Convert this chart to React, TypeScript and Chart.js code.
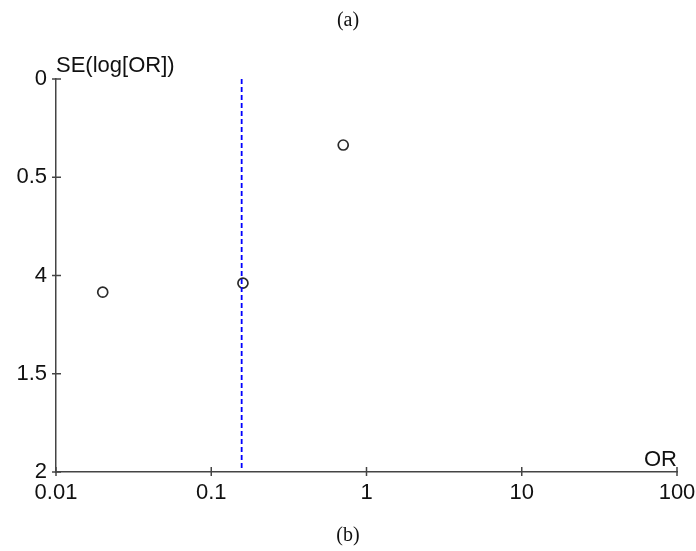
import React, { useEffect, useRef } from "react";
import { Chart, registerables } from "chart.js";

Chart.register(...registerables);

// ---- data ----
const studyOR: number[] = [0.02, 0.16, 0.708];
const studySE: number[] = [1.085, 1.039, 0.336];
const pooledOR = 0.157;
const pooledLineSE: number[] = [0, 1.98];

const xTickValues: number[] = [0.01, 0.1, 1, 10, 100];
const xTickLabels: string[] = ["0.01", "0.1", "1", "10", "100"];
const yTickValues: number[] = [0, 0.5, 1, 1.5, 2];
const yTickLabels: string[] = ["0", "0.5", "4", "1.5", "2"];

const topTitle = "(a)";
const bottomTitle = "(b)";
const yAxisTitle = "SE(log[OR])";
const xAxisTitle = "OR";

const SANS = '"Liberation Sans", Arial, sans-serif';
const SERIF = '"Liberation Serif", "Times New Roman", serif';
const AXIS_COLOR = "#444";
const TEXT_COLOR = "#111";

const crossTicksPlugin = {
  id: "crossTicks",
  afterDraw(chart: any) {
    const { ctx, chartArea, scales } = chart;
    ctx.save();
    ctx.strokeStyle = AXIS_COLOR;
    ctx.lineWidth = 1.5;
    scales.y.ticks.forEach((t: any) => {
      const py = scales.y.getPixelForValue(t.value);
      ctx.beginPath();
      ctx.moveTo(chartArea.left - 4, py);
      ctx.lineTo(chartArea.left + 5, py);
      ctx.stroke();
    });
    scales.x.ticks.forEach((t: any) => {
      const px = scales.x.getPixelForValue(t.value);
      ctx.beginPath();
      ctx.moveTo(px, chartArea.bottom - 5);
      ctx.lineTo(px, chartArea.bottom + 4);
      ctx.stroke();
    });
    ctx.fillStyle = TEXT_COLOR;
    ctx.font = `22px ${SANS}`;
    ctx.textBaseline = "alphabetic";
    ctx.textAlign = "left";
    ctx.fillText(yAxisTitle, chartArea.left, chartArea.top - 7);
    ctx.textAlign = "right";
    ctx.fillText(xAxisTitle, chartArea.right, chartArea.bottom - 6);
    ctx.restore();
  },
};

export default function App() {
  const canvasRef = useRef<HTMLCanvasElement | null>(null);

  useEffect(() => {
    if (!canvasRef.current) return;
    const chart = new Chart(canvasRef.current, {
      type: "scatter",
      data: {
        datasets: [
          {
            label: "Studies",
            data: studyOR.map((x, i) => ({ x, y: studySE[i] })),
            pointRadius: 5,
            pointBorderWidth: 1.7,
            pointBorderColor: "#2a2a2a",
            pointBackgroundColor: "rgba(255,255,255,0)",
            showLine: false,
            order: 2,
          },
          {
            label: "Pooled",
            data: pooledLineSE.map((y) => ({ x: pooledOR, y })),
            showLine: true,
            borderColor: "#0000ff",
            borderWidth: 1.8,
            borderDash: [5, 3],
            pointRadius: 0,
            order: 1,
          },
        ],
      },
      options: {
        animation: false,
        responsive: false,
        layout: { padding: { left: 0, right: 0, top: 0, bottom: 0 } },
        plugins: {
          legend: { display: false },
          tooltip: { enabled: false },
          title: {
            display: true,
            text: topTitle,
            color: TEXT_COLOR,
            font: { family: SERIF, size: 20, weight: "normal" },
            padding: { top: 9, bottom: 46 },
          },
          subtitle: {
            display: true,
            position: "bottom",
            text: bottomTitle,
            color: TEXT_COLOR,
            font: { family: SERIF, size: 20, weight: "normal" },
            padding: { top: 12, bottom: 3 },
          },
        },
        scales: {
          x: {
            type: "logarithmic",
            min: 0.01,
            max: 100,
            afterBuildTicks: (scale: any) => {
              scale.ticks = xTickValues.map((v) => ({ value: v }));
            },
            afterFit: (scale: any) => {
              scale.height = 40;
              scale.paddingRight = 19;
              scale.paddingLeft = 0;
            },
            grid: { display: false, drawTicks: false },
            border: { display: true, color: AXIS_COLOR, width: 1.5 },
            ticks: {
              padding: 8,
              color: TEXT_COLOR,
              font: { family: SANS, size: 22 },
              autoSkip: false,
              maxRotation: 0,
              callback: (value: any) => {
                const i = xTickValues.findIndex((v) => Math.abs(v - Number(value)) < 1e-9);
                return i >= 0 ? xTickLabels[i] : "";
              },
            },
          },
          y: {
            type: "linear",
            reverse: true,
            min: 0,
            max: 2,
            afterBuildTicks: (scale: any) => {
              scale.ticks = yTickValues.map((v) => ({ value: v }));
            },
            afterFit: (scale: any) => {
              scale.width = 56;
            },
            grid: { display: false, drawTicks: false },
            border: { display: true, color: AXIS_COLOR, width: 1.5 },
            ticks: {
              padding: 9,
              color: TEXT_COLOR,
              font: { family: SANS, size: 22 },
              autoSkip: false,
              callback: (value: any) => {
                const i = yTickValues.findIndex((v) => Math.abs(v - Number(value)) < 1e-9);
                return i >= 0 ? yTickLabels[i] : "";
              },
            },
          },
        },
      },
      plugins: [crossTicksPlugin],
    } as any);
    return () => chart.destroy();
  }, []);

  return (
    <div style={{ position: "absolute", left: 0, top: 0, width: 696, height: 551, background: "#fff" }}>
      <canvas ref={canvasRef} width={696} height={551} style={{ display: "block" }} />
    </div>
  );
}
